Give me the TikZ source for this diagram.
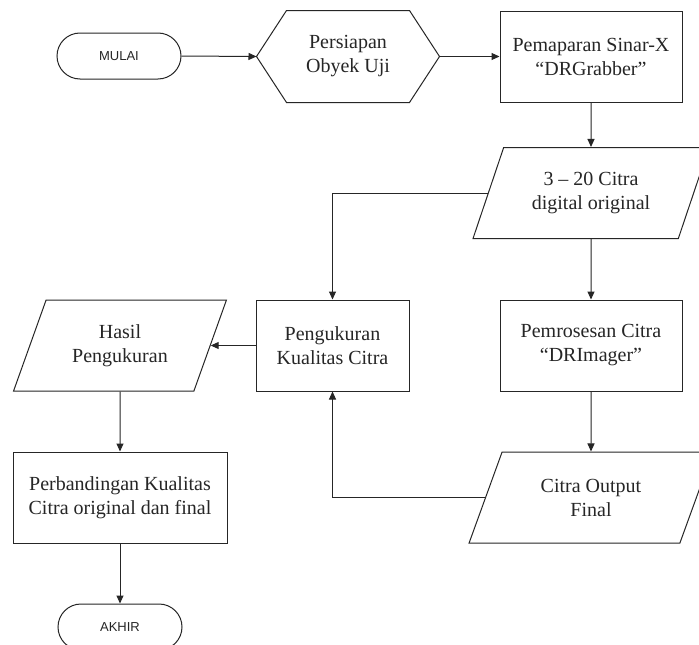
\documentclass[tikz,border=0pt]{standalone}
\usepackage{fontspec}
\setmainfont{Liberation Serif}
\newfontfamily\termfont{Liberation Sans}
\usetikzlibrary{shapes.geometric,arrows.meta}
\begin{document}
\begin{tikzpicture}[x=1pt,y=-1pt,
  line width=1pt,
  every node/.style={font=\fontsize{20}{24}\selectfont, text=black!85, align=center, inner sep=0pt},
  proc/.style={draw=black!85, rectangle, minimum width=182pt, minimum height=91pt},
  io/.style={draw=black!85, trapezium, trapezium left angle=63.5, trapezium right angle=116.5,
             trapezium stretches=true, minimum height=91pt},
  term/.style={draw=black!85, rectangle, rounded corners=23pt, minimum width=124pt,
             minimum height=46pt, font=\termfont\fontsize{13}{15}\selectfont},
  arr/.style={draw=black!85, -{Triangle[length=8pt,width=7pt]}}
]
\useasboundingbox (0,0) rectangle (699,645);
\fill[white] (0,0) rectangle (699,645);

\node[term] (mulai) at (119,56) {MULAI};
\node[minimum width=182pt, minimum height=91pt] (hex) at (348,56.5) {Persiapan\\Obyek Uji};
\draw[draw=black!85] (hex.west) -- ([xshift=30pt]hex.north west) -- ([xshift=-30pt]hex.north east)
  -- (hex.east) -- ([xshift=-30pt]hex.south east) -- ([xshift=30pt]hex.south west) -- cycle;
\node[proc] (pem) at (591,56.5) {Pemaparan Sinar-X\\“DRGrabber”};
\node[io, minimum width=236pt] (par1) at (591,193) {3 – 20 Citra\\digital original};
\node[proc, minimum width=153pt] (peng) at (332.5,345.5) {Pengukuran\\Kualitas Citra};
\node[proc] (pros) at (591,345.5) {Pemrosesan Citra\\“DRImager”};
\node[io, minimum width=213pt] (hasil) at (120,345.5) {Hasil\\Pengukuran};
\node[io, minimum width=244pt] (cout) at (591,497.5) {Citra Output\\Final};
\node[proc, minimum width=214pt] (perb) at (120,497.5) {Perbandingan Kualitas\\Citra original dan final};
\node[term] (akhir) at (120,627) {AKHIR};

\draw[arr] (mulai.east) -- (hex.west);
\draw[arr] (hex.east) -- (pem.west);
\draw[arr] (pem.south) -- (par1.north);
\draw[arr] (par1.south) -- (pros.north);
\draw[arr] (pros.south) -- (cout.north);
\draw[arr] (par1.left side) -| (peng.north);
\draw[arr] (cout.left side) -| (peng.south);
\draw[arr] (peng.west) -- (hasil.right side);
\draw[arr] (hasil.south) -- (perb.north);
\draw[arr] (perb.south) -- (akhir.north);
\end{tikzpicture}
\end{document}
